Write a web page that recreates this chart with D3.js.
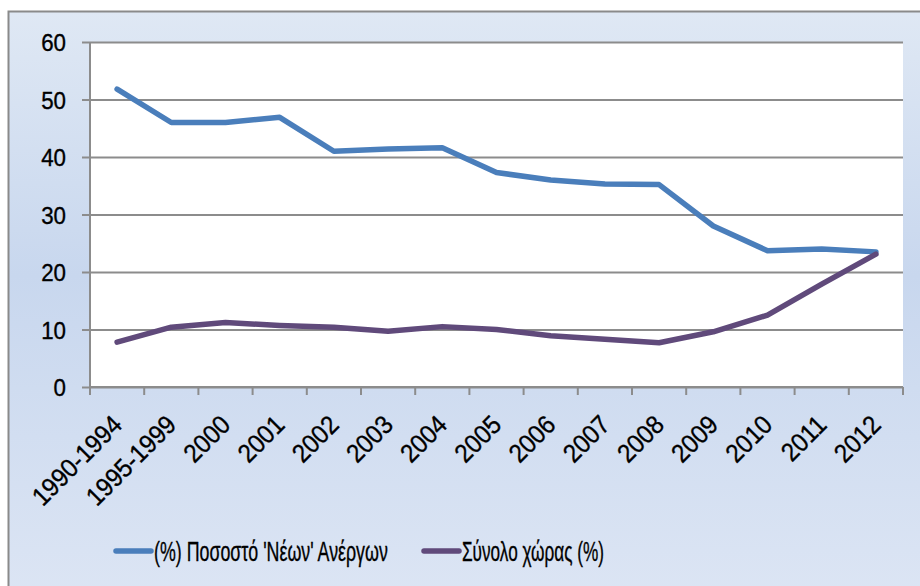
<!DOCTYPE html>
<html>
<head>
<meta charset="utf-8">
<script src="https://cdn.jsdelivr.net/npm/d3@7"></script>
<style>
  body { margin: 0; background: #fff; }
  text { font-family: "Liberation Sans", Arial, sans-serif; fill: #000; stroke: #000; stroke-width: 0.35px; }
</style>
</head>
<body>
<div id="chart"></div>
<script>
// categories and series
const years = ["1990-1994", "1995-1999", "2000", "2001", "2002", "2003", "2004", "2005",
    "2006", "2007", "2008", "2009", "2010", "2011", "2012"];
const youth = [51.8, 46, 46, 46.9, 41, 41.4, 41.6, 37.3, 36, 35.3, 35.2, 28, 23.7, 24, 23.5];
const total = [7.8, 10.4, 11.2, 10.7, 10.4, 9.7, 10.5, 10, 8.9, 8.3, 7.7, 9.6, 12.5, 17.9, 23.1];
const yTicks = [0, 10, 20, 30, 40, 50, 60];
const seriesNames = ["(%) Ποσοστό 'Νέων' Ανέργων", "Σύνολο χώρας (%)"];

const width = 920, height = 586;
const plot = { left: 90, right: 903, top: 42, bottom: 387 };
const blue = "#4a7ebb", purple = "#604a7b", grid = "#8c8c8c";

// narrow the text a bit (original font is a condensed one)
function squeeze(sel, ratio) {
    sel.each(function() {
        const len = this.getComputedTextLength();
        d3.select(this)
            .attr("textLength", len * ratio)
            .attr("lengthAdjust", "spacingAndGlyphs");
    });
}

const svg = d3.select("#chart").append("svg")
    .attr("width", width)
    .attr("height", height);

const grad = svg.append("defs").append("linearGradient")
    .attr("id", "bg")
    .attr("x1", 0).attr("y1", 0).attr("x2", 0).attr("y2", 1);
grad.append("stop").attr("offset", "0%").attr("stop-color", "#dfe8f4");
grad.append("stop").attr("offset", "45%").attr("stop-color", "#c8d7ee");
grad.append("stop").attr("offset", "100%").attr("stop-color", "#dce5f4");

// chart area (cropped on the right and bottom)
svg.append("rect")
    .attr("x", 8.5).attr("y", 11.5)
    .attr("width", width).attr("height", height)
    .attr("fill", "url(#bg)")
    .attr("stroke", "#8a8a8a")
    .attr("stroke-width", 2);

svg.append("rect")
    .attr("x", plot.left).attr("y", plot.top)
    .attr("width", plot.right - plot.left)
    .attr("height", plot.bottom - plot.top)
    .attr("fill", "#fff");

const x = d3.scaleBand()
    .domain(years)
    .range([plot.left, plot.right]);

const y = d3.scaleLinear()
    .domain([0, 60])
    .range([plot.bottom, plot.top]);

// gridlines + y axis
const yAxis = svg.append("g")
    .attr("transform", `translate(${plot.left},0)`)
    .call(d3.axisLeft(y).tickValues(yTicks)
        .tickSizeInner(-(plot.right - plot.left)));
yAxis.select(".domain").remove();
yAxis.selectAll(".tick line")
    .attr("x1", -8)
    .attr("stroke", grid)
    .attr("stroke-width", 2);
yAxis.selectAll(".tick text")
    .attr("x", -24)
    .attr("dy", "0.36em")
    .style("font-size", "24px")
    .style("font-family", "Liberation Sans, Arial, sans-serif")
    .call(squeeze, 0.93);

svg.append("line")
    .attr("x1", plot.left).attr("x2", plot.left)
    .attr("y1", plot.top).attr("y2", plot.bottom + 8)
    .attr("stroke", grid)
    .attr("stroke-width", 2);

// x axis: ticks on category boundaries
const xAxis = svg.append("g")
    .attr("transform", `translate(0,${plot.bottom})`);
xAxis.append("line")
    .attr("x1", plot.left).attr("x2", plot.right)
    .attr("stroke", grid).attr("stroke-width", 2);
xAxis.selectAll("line.tk")
    .data(years.concat([null]))
    .enter().append("line")
    .attr("class", "tk")
    .attr("x1", (d, i) => plot.left + i * x.step())
    .attr("x2", (d, i) => plot.left + i * x.step())
    .attr("y1", 0).attr("y2", 8)
    .attr("stroke", grid).attr("stroke-width", 2);
xAxis.selectAll("text")
    .data(years)
    .enter().append("text")
    .attr("transform", d => `translate(${x(d) + x.bandwidth() / 2},33) rotate(-45)`)
    .attr("text-anchor", "end")
    .attr("dy", "0.35em")
    .style("font-size", "26px")
    .text(d => d)
    .call(squeeze, 0.92);

// lines
const line = d3.line()
    .x((d, i) => x(years[i]) + x.bandwidth() / 2)
    .y(d => y(d));

[[youth, blue], [total, purple]].forEach(([vals, col]) => {
    svg.append("path")
        .datum(vals)
        .attr("d", line)
        .attr("fill", "none")
        .attr("stroke", col)
        .attr("stroke-width", 5.5)
        .attr("stroke-linejoin", "round")
        .attr("stroke-linecap", "round");
});

// legend
const legend = svg.append("g").attr("class", "legend");
const legendItems = [
    { name: seriesNames[0], color: blue, x: 116, w: 234 },
    { name: seriesNames[1], color: purple, x: 424, w: 142 }
];
legendItems.forEach(it => {
    legend.append("line")
        .attr("x1", it.x).attr("x2", it.x + 35)
        .attr("y1", 551).attr("y2", 551)
        .attr("stroke", it.color)
        .attr("stroke-width", 5.5)
        .attr("stroke-linecap", "round");
    // scale horizontally so the box really is the squeezed width
    const g = legend.append("g")
        .attr("transform", `translate(${it.x + 38},552)`);
    const t = g.append("text")
        .attr("dy", "0.35em")
        .style("font-size", "27px")
        .text(it.name);
    const sx = it.w / t.node().getComputedTextLength();
    g.attr("transform", `translate(${it.x + 38},552) scale(${sx},1)`);
});
</script>
</body>
</html>
